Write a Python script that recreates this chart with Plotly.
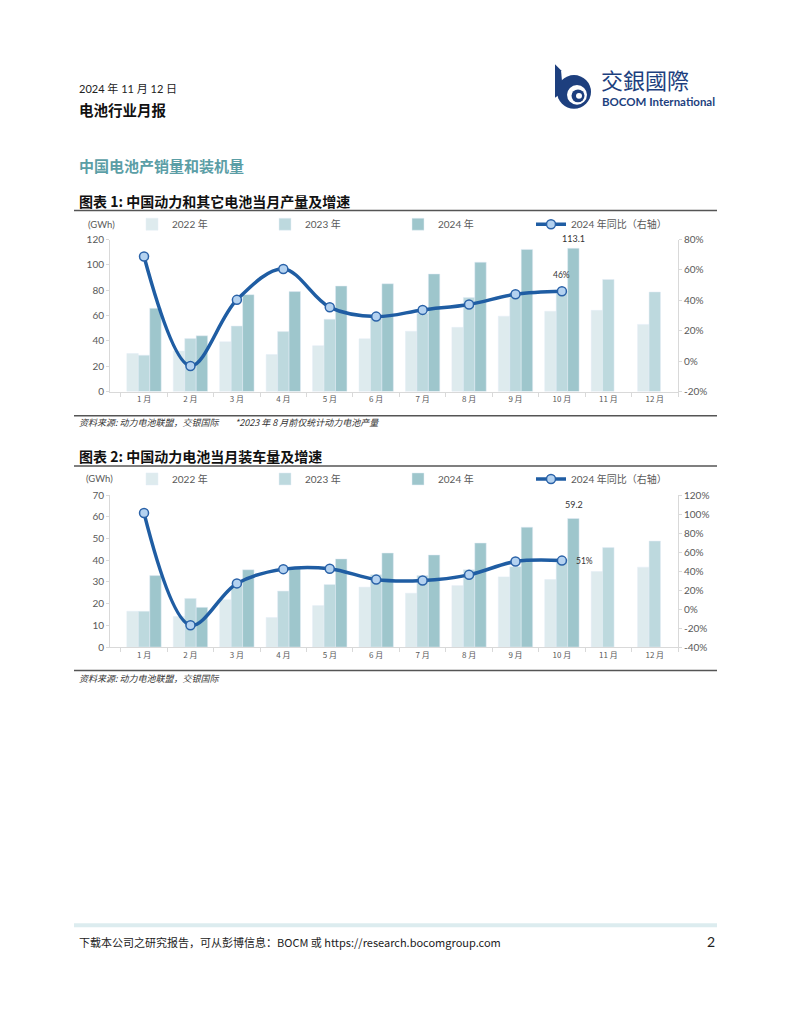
import plotly.graph_objects as go

# ---------------- data ----------------
months = ["1 月", "2 月", "3 月", "4 月", "5 月", "6 月", "7 月", "8 月", "9 月", "10 月", "11 月", "12 月"]
months_2024 = months[:10]

# Chart 1: production (GWh)
prod_2022 = [30, 32, 39.3, 29.2, 36.2, 41.6, 47.6, 50.7, 59.5, 63.4, 64.1, 53]
prod_2023 = [28.7, 41.9, 51.7, 47.3, 57.1, 59, 61.8, 74.2, 77, 78.5, 88.4, 78.6]
prod_2024 = [65.7, 44, 76.5, 78.9, 83.3, 85.1, 92.8, 102.1, 112.2, 113.1]
prod_yoy = [68.8, -3.2, 40.3, 60.6, 35.4, 29.3, 33.7, 37.3, 44, 46]

# Chart 2: installations (GWh)
inst_2022 = [16.5, 14.1, 21.8, 13.6, 19.1, 27.6, 24.8, 28.3, 32.3, 31.1, 34.8, 36.8]
inst_2023 = [16.5, 22.4, 28, 25.8, 28.8, 33.3, 32.9, 35.6, 37, 40.5, 45.8, 48.8]
inst_2024 = [32.9, 18.3, 35.6, 36, 40.6, 43.3, 42.4, 47.9, 55.2, 59.2]
inst_yoy = [101, -17, 27, 42, 42.5, 31, 30, 36, 50, 51]

left1_ticks = [0, 20, 40, 60, 80, 100, 120]
right1_ticks = [-20, 0, 20, 40, 60, 80]
left2_ticks = [0, 10, 20, 30, 40, 50, 60, 70]
right2_ticks = [-40, -20, 0, 20, 40, 60, 80, 100, 120]

series_names = ["2022 年", "2023 年", "2024 年", "2024 年同比（右轴）"]

# ---------------- styles ----------------
W, H = 791, 1024
def px(x):
    return x / W
def py(y):
    return 1 - y / H

C22, C23, C24 = "#deebee", "#bdd9de", "#9ec6cc"
LINE = "#1f5da3"
MK_FILL = "#b4d2f0"
TICK = "#595959"
AXL = "#d9d9d9"
NUMFONT = "Lato, 'Noto Sans CJK SC', sans-serif"
CJK = "'Noto Sans CJK SC', sans-serif"

fig = go.Figure()

def add_chart(xa, ya, ya2, legend, d22, d23, d24, yoy):
    fig.add_trace(go.Bar(x=months, y=d22, name=series_names[0], marker_color=C22,
                         xaxis=xa, yaxis=ya, legend=legend))
    fig.add_trace(go.Bar(x=months, y=d23, name=series_names[1], marker_color=C23,
                         xaxis=xa, yaxis=ya, legend=legend))
    fig.add_trace(go.Bar(x=months_2024, y=d24, name=series_names[2], marker_color=C24,
                         xaxis=xa, yaxis=ya, legend=legend))
    fig.add_trace(go.Scatter(x=months_2024, y=yoy, name=series_names[3], mode="lines+markers",
                             line=dict(color=LINE, width=3.5, shape="spline", smoothing=1.0),
                             marker=dict(size=9, color=MK_FILL, line=dict(color="#2a62a8", width=1.5)),
                             xaxis=xa, yaxis=ya2, legend=legend))

add_chart("x", "y", "y2", "legend", prod_2022, prod_2023, prod_2024, prod_yoy)
add_chart("x2", "y3", "y4", "legend2", inst_2022, inst_2023, inst_2024, inst_yoy)

xcommon = dict(showline=True, linecolor=AXL, ticks="outside", tickson="boundaries", ticklen=4,
               tickcolor=AXL, showgrid=False, tickfont=dict(family=CJK, size=8, color=TICK),
               categoryorder="array", categoryarray=months)
ycommon = dict(showline=True, linecolor=AXL, ticks="outside", ticklen=3, tickcolor=AXL,
               showgrid=False, zeroline=False, tickfont=dict(family=NUMFONT, size=10, color=TICK))

xdom = [px(110), px(678)]
y1dom = [py(389.5), py(235.5)]
y2dom = [py(648.3), py(494.3)]

legend_common = dict(orientation="h", xanchor="left", yanchor="middle",
                     entrywidth=88, entrywidthmode="pixels", itemwidth=30,
                     font=dict(family=NUMFONT, size=10, color=TICK), bgcolor="rgba(0,0,0,0)",
                     traceorder="normal")

fig.update_layout(
    width=W, height=H, autosize=False,
    margin=dict(l=0, r=0, t=0, b=0),
    paper_bgcolor="white", plot_bgcolor="white",
    barmode="group", bargap=0.26, bargroupgap=0,
    font=dict(family=CJK, color=TICK),
    xaxis=dict(domain=xdom, anchor="y", **xcommon),
    yaxis=dict(domain=y1dom, anchor="x", range=[0, 120], tickvals=left1_ticks,
               ticktext=[str(v) for v in left1_ticks], **ycommon),
    yaxis2=dict(overlaying="y", side="right", anchor="x", range=[-20, 80], tickvals=right1_ticks,
                ticktext=[f"{v}%" for v in right1_ticks], **ycommon),
    xaxis2=dict(domain=xdom, anchor="y3", **xcommon),
    yaxis3=dict(domain=y2dom, anchor="x2", range=[0, 70], tickvals=left2_ticks,
                ticktext=[str(v) for v in left2_ticks], **ycommon),
    yaxis4=dict(overlaying="y3", side="right", anchor="x2", range=[-40, 120], tickvals=right2_ticks,
                ticktext=[f"{v}%" for v in right2_ticks], **ycommon),
    legend=dict(x=px(132), y=py(220), **legend_common),
    legend2=dict(x=px(132), y=py(478), **legend_common),
    showlegend=True,
)

ann = []
def text(x, y, s, size=10, color="#222222", family=CJK, xanchor="left", yanchor="middle"):
    ann.append(dict(x=px(x), y=py(y), xref="paper", yref="paper", text=s, showarrow=False,
                    xanchor=xanchor, yanchor=yanchor, font=dict(size=size, color=color, family=family)))

text(77, 83, "2024 年 11 月 12 日", size=11, family=NUMFONT)
text(77, 104, "<b>电池行业月报</b>", size=14.5, color="#111111")
text(77, 161, "<b>中国电池产销量和装机量</b>", size=15, color="#5b9ea6")
text(77, 196, "<b>图表 1: 中国动力和其它电池当月产量及增速</b>", size=14, color="#111111")
text(86, 220, "(GWh)", size=9.5, color=TICK, family=NUMFONT)
text(77, 421, "<i>资料来源: 动力电池联盟，交银国际</i>", size=9, color="#333333")
text(233, 421, "<i>*2023 年 8 月前仅统计动力电池产量</i>", size=9, color="#333333")
text(77, 455, "<b>图表 2: 中国动力电池当月装车量及增速</b>", size=14, color="#111111")
text(84, 478, "(GWh)", size=9.5, color=TICK, family=NUMFONT)
text(77, 680, "<i>资料来源: 动力电池联盟，交银国际</i>", size=9, color="#333333")
text(77, 947, "下载本公司之研究报告，可从彭博信息：BOCM 或 https://research.bocomgroup.com", size=11, color="#222222")
text(717, 947, "2", size=14, color="#222222", family=NUMFONT, xanchor="right")
# logo text
text(599, 73, "交銀國際", size=22, color="#1d3f7e")
text(600, 96, "<b>BOCOM International</b>", size=11.5, color="#1d3f7e", family=NUMFONT)

# data labels
ann.append(dict(x="10 月", y=prod_2024[-1], xref="x", yref="y", text=f"{prod_2024[-1]}", showarrow=False,
                xshift=12, yshift=2, yanchor="bottom", font=dict(size=9, color="#333333", family=NUMFONT)))
ann.append(dict(x="10 月", y=prod_yoy[-1], xref="x", yref="y2", text=f"{prod_yoy[-1]:.0f}%", showarrow=False,
                yshift=9, yanchor="bottom", font=dict(size=8.5, color="#333333", family=NUMFONT)))
ann.append(dict(x="10 月", y=inst_2024[-1], xref="x2", yref="y3", text=f"{inst_2024[-1]}", showarrow=False,
                xshift=12, yshift=6, yanchor="bottom", font=dict(size=9, color="#333333", family=NUMFONT)))
ann.append(dict(x="10 月", y=inst_yoy[-1], xref="x2", yref="y4", text=f"{inst_yoy[-1]:.0f}%", showarrow=False,
                xshift=12, yanchor="middle", xanchor="left", font=dict(size=8.5, color="#333333", family=NUMFONT)))
fig.update_layout(annotations=ann)

shapes = []
def hline(y, color, width, x0=74, x1=717):
    shapes.append(dict(type="line", xref="paper", yref="paper", x0=px(x0), x1=px(x1), y0=py(y), y1=py(y),
                       line=dict(color=color, width=width)))
hline(206, "#555555", 1.5)
hline(414, "#555555", 1.5)
hline(465, "#555555", 1.5)
hline(672, "#555555", 1.5)
hline(930, "#dcecef", 4)

NAVY = "#1d3f7e"
def circle(cx, cy, r, color):
    shapes.append(dict(type="circle", xref="paper", yref="paper", x0=px(cx - r), x1=px(cx + r),
                       y0=py(cy + r), y1=py(cy - r), fillcolor=color, line=dict(width=0)))
shapes.append(dict(type="path", xref="paper", yref="paper",
                   path=f"M {px(555)} {py(58)} L {px(561)} {py(64)} L {px(563)} {py(86)} L {px(555)} {py(92)} Z",
                   fillcolor=NAVY, line=dict(width=0)))
circle(574, 86, 17, NAVY)
circle(577, 89, 10, "white")
circle(578, 90, 6.5, NAVY)
circle(579, 90, 3, "white")
fig.update_layout(shapes=shapes)

fig.write_html("out.html", config={"displayModeBar": False},
               post_script="document.body.style.margin='0';document.body.style.overflow='hidden';")
